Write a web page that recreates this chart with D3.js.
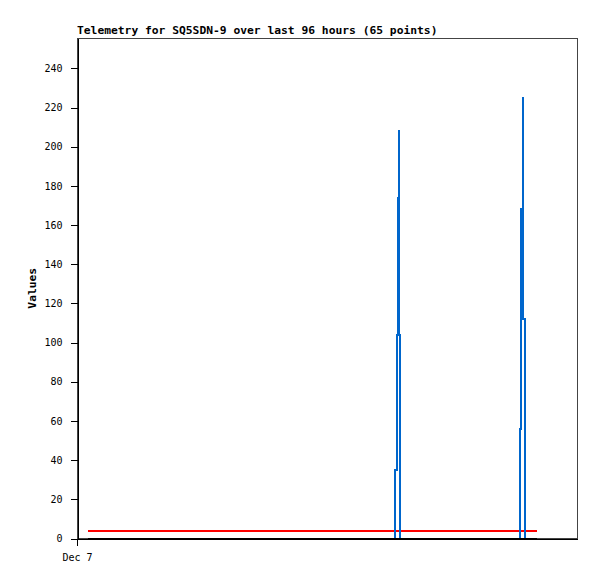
<!DOCTYPE html>
<html>
<head>
<meta charset="utf-8">
<script src="https://cdn.jsdelivr.net/npm/d3@7"></script>
<style>
  html, body { margin: 0; padding: 0; background: #fff; }
  svg { display: block; }
</style>
</head>
<body>
<svg id="chart" width="597" height="579"></svg>
<script>
// ---- data (time in hours since Dec 7 00:00) ----
const titleText = "Telemetry for SQ5SDN-9 over last 96 hours (65 points)";
const yLabel = "Values";
const xTickHours = [0];
const xTickLabels = ["Dec 7"];
const yTicks = [0, 20, 40, 60, 80, 100, 120, 140, 160, 180, 200, 220, 240];

// blue series (step-like spikes)
const blueHours  = [2.11, 61.15, 61.44, 61.57, 61.73, 61.82, 61.98, 85.15, 85.34, 85.58, 85.69, 85.92, 88.32];
const blueValues = [0,    35,    104,   174,   208,   104,   0,     56,    168,   225,   112,   0,     0];
// red series (constant)
const redHours  = [2.11, 88.32];
const redValues = [3.7, 3.7];
// black series (zero)
const blackHours  = [2.11, 88.32];
const blackValues = [0, 0];

// ---- layout ----
const svg = d3.select("#chart");
const L = 77, T = 38, R = 577, B = 538.5;
const x = d3.scaleLinear().domain([0, 96]).range([L, R]);
const y = d3.scaleLinear().domain([0, 255.5]).range([B, T]);
const mono = "'DejaVu Sans Mono', 'Liberation Mono', monospace";

// frame
svg.append("rect")
  .attr("x", L + 0.5).attr("y", T + 0.5)
  .attr("width", R - L - 0.5).attr("height", B - T - 0.5)
  .attr("fill", "none").attr("stroke", "#444").attr("shape-rendering", "crispEdges");

// data lines
const line = d3.line().x(d => x(d[0])).y(d => y(d[1])).curve(d3.curveStepAfter);
function series(hours, values, color) {
  svg.append("path")
    .datum(hours.map((h, i) => [h, values[i]]))
    .attr("d", line)
    .attr("fill", "none")
    .attr("stroke", color)
    .attr("stroke-width", 2)
    .attr("shape-rendering", "crispEdges");
}
series(redHours, redValues, "#ff0000");
series(blueHours, blueValues, "#0066cc");
series(blackHours, blackValues, "#000000");

// y axis
const yAxis = d3.axisLeft(y).tickValues(yTicks).tickSize(7).tickPadding(8).tickSizeOuter(0);
const gy = svg.append("g").attr("transform", `translate(${L + 0.5},0)`).call(yAxis);
gy.select(".domain").attr("stroke", "#000").attr("shape-rendering", "crispEdges");
gy.selectAll(".tick line").attr("stroke", "#000").attr("shape-rendering", "crispEdges");
gy.selectAll(".tick text").attr("font-family", mono).attr("font-size", "10px").attr("fill", "#000");

// x axis
const xAxis = d3.axisBottom(x).tickValues(xTickHours).tickSize(7).tickPadding(8).tickSizeOuter(0)
  .tickFormat((d, i) => xTickLabels[i]);
const gx = svg.append("g").attr("transform", `translate(0,${B})`).call(xAxis);
gx.select(".domain").attr("stroke", "#000").attr("shape-rendering", "crispEdges");
gx.selectAll(".tick line").attr("stroke", "#000").attr("shape-rendering", "crispEdges");
gx.selectAll(".tick text").attr("font-family", mono).attr("font-size", "10px").attr("fill", "#000");

// title
svg.append("text")
  .attr("x", L).attr("y", 34)
  .attr("font-family", mono).attr("font-size", "11.3px").attr("font-weight", "bold")
  .text(titleText);

// y label
svg.append("text")
  .attr("transform", `translate(36,${(T + B) / 2}) rotate(-90)`)
  .attr("text-anchor", "middle")
  .attr("font-family", mono).attr("font-size", "11.3px").attr("font-weight", "bold")
  .text(yLabel);
</script>
</body>
</html>
